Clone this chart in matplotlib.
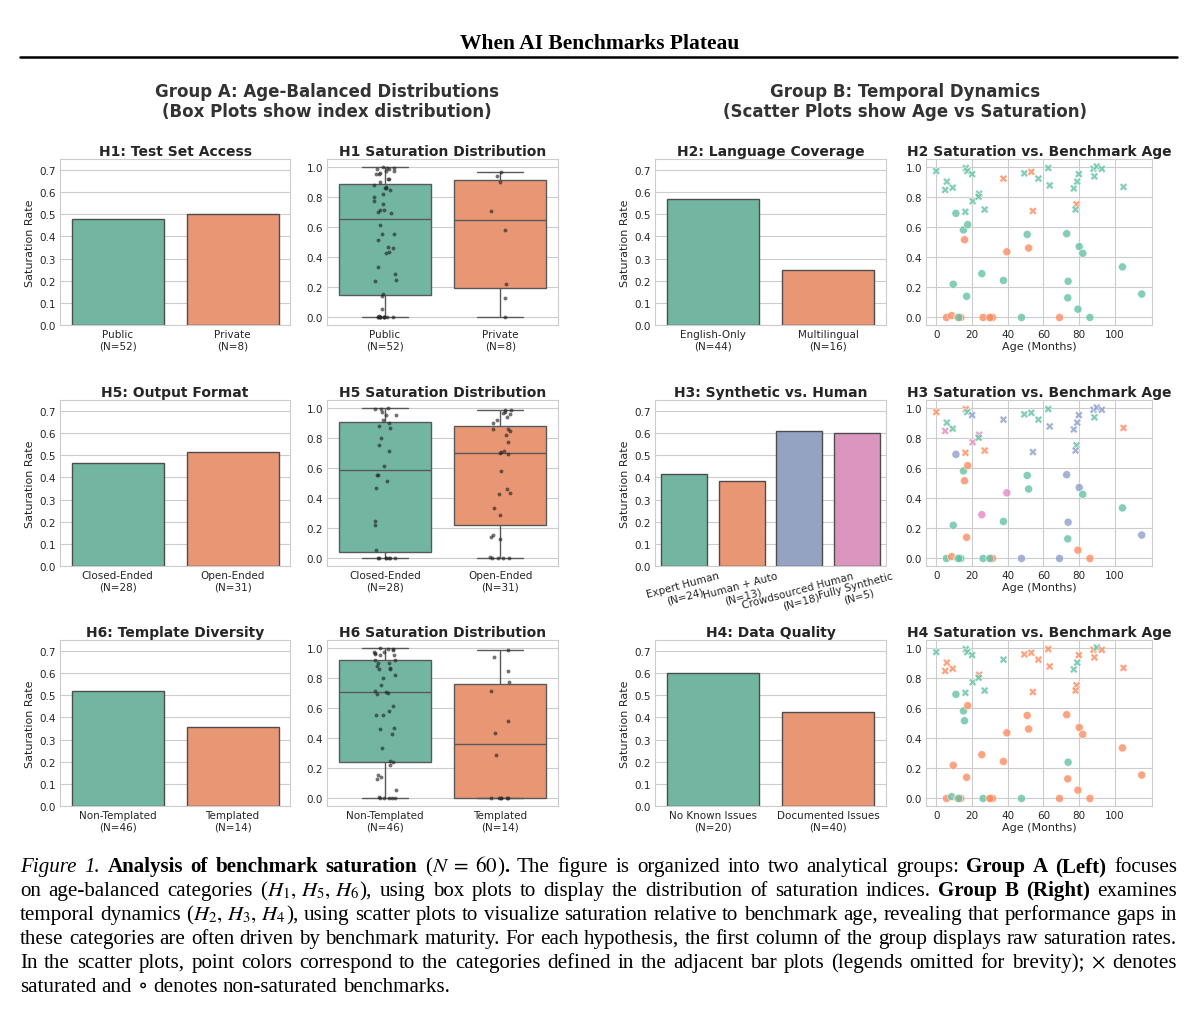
import numpy as np
import pandas as pd
import matplotlib
matplotlib.use('Agg')
import matplotlib.pyplot as plt
import seaborn as sns
from matplotlib.lines import Line2D

# 60 benchmarks: first 29 saturated (x), remaining 31 non-saturated (o)
age = [0, 5, 5.9, 9.2, 16.5, 17.4, 20.1, 16.3, 20.4, 24.0,
       23.7, 27.1, 37.6, 49.3, 53.2, 57.2, 54.1, 62.7, 63.5, 77.0,
       78.9, 79.8, 78.5, 78.0, 88.0, 89.9, 88.5, 92.7, 104.8,
       11.0, 15.2, 17.6, 15.8, 9.5, 17.0, 25.5, 37.6, 39.5, 50.9,
       51.7, 73.0, 73.8, 73.6, 80.0, 82.0, 79.3, 104.2, 115.0, 5.7,
       8.6, 12.0, 13.8, 26.2, 30.5, 31.5, 47.7, 69.0, 86.0, 12.6, 30.0]
sat_index = [0.97, 0.845, 0.90, 0.86, 0.99, 0.97, 0.95, 0.70, 0.77, 0.82,
             0.80, 0.715, 0.92, 0.955, 0.965, 0.92, 0.705, 0.99, 0.875, 0.855,
             0.90, 0.95, 0.75, 0.715, 0.985, 1.0, 0.935, 0.985, 0.865,
             0.69, 0.58, 0.615, 0.515, 0.22, 0.14, 0.29, 0.245, 0.435, 0.55,
             0.46, 0.555, 0.24, 0.13, 0.47, 0.425, 0.055, 0.335, 0.155, 0.0,
             0.012, 0.0, 0.0, 0.0, 0.0, 0.0, 0.0, 0.0, 0.0, 0.0, 0.0]
saturated = [1, 1, 1, 1, 1, 1, 1, 1, 1, 1, 1, 1, 1, 1, 1, 1, 1, 1, 1, 1,
             1, 1, 1, 1, 1, 1, 1, 1, 1,
             0, 0, 0, 0, 0, 0, 0, 0, 0, 0, 0, 0, 0, 0, 0, 0, 0, 0, 0, 0,
             0, 0, 0, 0, 0, 0, 0, 0, 0, 0, 0]

# category codes per benchmark (same order as above)
h1_codes = "UUUUUUUUUUUUUUPUPUUUPUUUUUPUU" "UPUUPUUUUUUUUPUUUUUUUUUUUUUPUUU"
h2_codes = "EEEEEEEEEEEEMEMEMEEEEEMEEEEEE" "EEEMEEEEMEMEEEEEEEEMMMMMMMEMEEM"
h3_codes = "ASEEAECASSEACEEECECCCCECCCECA" "CEAAEASESEECCECEAECEAEEEAACCAEE"
h4_codes = "NDDDNNNNNDNNNDDDDDDNNDDDDNDDD" "NNDNDDDDDDDDNDDDDDDDNDDNDDNDDND"
h5_codes = "COCOCOCOOOCOCOOOOCCOOCCCOCOOC" "OOCCCOOCOCOC-OCOCOOCOCCCCCOOOCO"
h6_codes = "NTNNNNNNTNNTNNNNNNNNNNNNNNTTN" "NNNTNNTNTNNNNNNNNNNTNTTNTTNNNTN"

h1_names = {'U': 'Public', 'P': 'Private'}
h2_names = {'E': 'English-Only', 'M': 'Multilingual'}
h3_names = {'E': 'Expert Human', 'A': 'Human + Auto', 'C': 'Crowdsourced Human', 'S': 'Fully Synthetic'}
h4_names = {'N': 'No Known Issues', 'D': 'Documented Issues'}
h5_names = {'C': 'Closed-Ended', 'O': 'Open-Ended', '-': None}
h6_names = {'N': 'Non-Templated', 'T': 'Templated'}

h1_order = ['Public', 'Private']
h2_order = ['English-Only', 'Multilingual']
h3_order = ['Expert Human', 'Human + Auto', 'Crowdsourced Human', 'Fully Synthetic']
h4_order = ['No Known Issues', 'Documented Issues']
h5_order = ['Closed-Ended', 'Open-Ended']
h6_order = ['Non-Templated', 'Templated']

df = pd.DataFrame({'age': age, 'sat': sat_index, 'saturated': saturated})
df['h1'] = [h1_names[c] for c in h1_codes]
df['h2'] = [h2_names[c] for c in h2_codes]
df['h3'] = [h3_names[c] for c in h3_codes]
df['h4'] = [h4_names[c] for c in h4_codes]
df['h5'] = [h5_names[c] for c in h5_codes]
df['h6'] = [h6_names[c] for c in h6_codes]

sns.set_style('whitegrid')
plt.rcParams['xtick.labelsize'] = 7.5
plt.rcParams['ytick.labelsize'] = 7.5
plt.rcParams['xtick.major.size'] = 0
plt.rcParams['ytick.major.size'] = 0
plt.rcParams['xtick.major.pad'] = 3
plt.rcParams['ytick.major.pad'] = 3
plt.rcParams['mathtext.fontset'] = 'stix'
np.random.seed(3)

set2 = sns.color_palette('Set2')
FW, FH = 1200, 1020
fig = plt.figure(figsize=(FW / 100, FH / 100), dpi=100)


def axes_px(left, top, w, h):
    return fig.add_axes([left / FW, 1 - (top + h) / FH, w / FW, h / FH])


def pal_for(order):
    return dict(zip(order, set2[:len(order)]))


def tick_names(col, order):
    return [f'{c}\n(N={(df[col] == c).sum()})' for c in order]


def bar_panel(ax, col, order, title, rot=0):
    sns.barplot(data=df, x=col, y='saturated', order=order, hue=col, hue_order=order,
                palette=pal_for(order), errorbar=None, edgecolor='.3', linewidth=1,
                ax=ax, legend=False)
    ax.set_ylim(0, 0.75)
    ax.set_yticks(np.arange(0, 0.71, 0.1))
    ax.set_title(title, fontsize=10, fontweight='bold', pad=3)
    ax.set_xlabel('')
    ax.set_ylabel('Saturation Rate', fontsize=8, labelpad=3)
    ax.set_xticks(range(len(order)))
    ax.set_xticklabels(tick_names(col, order), rotation=rot)


def box_panel(ax, col, order, title):
    d = df[df[col].notna()]
    sns.boxplot(data=d, x=col, y='sat', order=order, hue=col, hue_order=order,
                palette=pal_for(order), showfliers=False, ax=ax, legend=False)
    sns.stripplot(data=d, x=col, y='sat', order=order, color='.15', size=2.8,
                  alpha=0.65, jitter=True, ax=ax)
    ax.set_title(title, fontsize=10, fontweight='bold', pad=3)
    ax.set_xlabel('')
    ax.set_ylabel('')
    ax.set_xticks(range(len(order)))
    ax.set_xticklabels(tick_names(col, order))


def scatter_panel(ax, col, order, title):
    sns.scatterplot(data=df, x='age', y='sat', hue=col, hue_order=order,
                    palette=pal_for(order), style='saturated', markers={1: 'X', 0: 'o'},
                    s=34, alpha=0.8, ax=ax, legend=False)
    ax.set_title(title, fontsize=10, fontweight='bold', pad=3)
    ax.set_xlabel('Age (Months)', fontsize=8, labelpad=1)
    ax.set_ylabel('')
    ax.set_xticks([0, 20, 40, 60, 80, 100])


cols = [60, 327, 655, 926]
widths = [230, 231, 231, 226]
tops = [160, 401, 641]
H = 166

bar_panel(axes_px(cols[0], tops[0], widths[0], H), 'h1', h1_order, 'H1: Test Set Access')
box_panel(axes_px(cols[1], tops[0], widths[1], H), 'h1', h1_order, 'H1 Saturation Distribution')
bar_panel(axes_px(cols[0], tops[1], widths[0], H), 'h5', h5_order, 'H5: Output Format')
box_panel(axes_px(cols[1], tops[1], widths[1], H), 'h5', h5_order, 'H5 Saturation Distribution')
bar_panel(axes_px(cols[0], tops[2], widths[0], H), 'h6', h6_order, 'H6: Template Diversity')
box_panel(axes_px(cols[1], tops[2], widths[1], H), 'h6', h6_order, 'H6 Saturation Distribution')

bar_panel(axes_px(cols[2], tops[0], widths[2], H), 'h2', h2_order, 'H2: Language Coverage')
scatter_panel(axes_px(cols[3], tops[0], widths[3], H), 'h2', h2_order, 'H2 Saturation vs. Benchmark Age')
bar_panel(axes_px(cols[2], tops[1], widths[2], H), 'h3', h3_order, 'H3: Synthetic vs. Human', rot=15)
scatter_panel(axes_px(cols[3], tops[1], widths[3], H), 'h3', h3_order, 'H3 Saturation vs. Benchmark Age')
bar_panel(axes_px(cols[2], tops[2], widths[2], H), 'h4', h4_order, 'H4: Data Quality')
scatter_panel(axes_px(cols[3], tops[2], widths[3], H), 'h4', h4_order, 'H4 Saturation vs. Benchmark Age')

# page header
fig.text(0.5, 1 - 44 / FH, 'When AI Benchmarks Plateau', family='Liberation Serif',
         weight='bold', fontsize=15.5, ha='center', va='center', color='black')
fig.add_artist(Line2D([20 / FW, 1177 / FW], [1 - 58 / FH, 1 - 58 / FH], color='black', lw=1.8))

fig.text(327 / FW, 1 - 102 / FH, 'Group A: Age-Balanced Distributions\n(Box Plots show index distribution)',
         ha='center', va='center', fontsize=12, fontweight='bold', color='.2', linespacing=1.1)
fig.text(905 / FW, 1 - 102 / FH, 'Group B: Temporal Dynamics\n(Scatter Plots show Age vs Saturation)',
         ha='center', va='center', fontsize=12, fontweight='bold', color='.2', linespacing=1.1)

# caption, justified line by line
caption = [
    [('i', 'Figure 1.'), ('r', ' '), ('b', 'Analysis of benchmark saturation'), ('r', ' ('),
     ('m', r'$N\;=\;60$'), ('r', ')'), ('b', '.'),
     ('r', ' The figure is organized into two analytical groups: '), ('b', 'Group A (Left)'),
     ('r', ' focuses')],
    [('r', 'on age-balanced categories ('), ('m', r'$H_1,\,H_5,\,H_6$'),
     ('r', '), using box plots to display the distribution of saturation indices. '),
     ('b', 'Group B (Right)'), ('r', ' examines')],
    [('r', 'temporal dynamics ('), ('m', r'$H_2,\,H_3,\,H_4$'),
     ('r', '), using scatter plots to visualize saturation relative to benchmark age, revealing that performance gaps in')],
    [('r', 'these categories are often driven by benchmark maturity. For each hypothesis, the first column of the group displays raw saturation rates.')],
    [('r', 'In the scatter plots, point colors correspond to the categories defined in the adjacent bar plots (legends omitted for brevity); '),
     ('m', r'$\times$'), ('r', ' denotes')],
    [('r', 'saturated and '), ('d', '\u2218'), ('r', ' denotes non-saturated benchmarks.')],
]


def split_words(line):
    words = [[]]
    for st, txt in line:
        parts = [txt] if st in ('m', 'd') else txt.split(' ')
        for i, p in enumerate(parts):
            if i > 0:
                words.append([])
            if p:
                words[-1].append((st, p))
    return [w for w in words if w]


def style_kw(st):
    if st == 'i':
        return dict(family='Liberation Serif', style='italic')
    if st == 'b':
        return dict(family='Liberation Serif', weight='bold')
    if st == 'd':
        return dict(family='DejaVu Serif')
    return dict(family='Liberation Serif')


renderer = fig.canvas.get_renderer()
x0, x1 = 20, 1177


def words_width(words, size):
    total = 0
    for w in words:
        for st, txt in w:
            t = fig.text(0, 0, txt, fontsize=size, **style_kw(st))
            total += t.get_window_extent(renderer).width
            t.remove()
    return total


# size the caption so the plainest line fills the width with normal spacing
probe = split_words(caption[3])
natural = words_width(probe, 10) + (len(probe) - 1) * 0.25 * 10 * 100 / 72
cap_size = 10 * (x1 - x0) / natural * 0.995

for li, line in enumerate(caption):
    yb = 1 - (872 + 24 * li) / FH
    words = split_words(line)
    placed = []
    total = 0
    for w in words:
        pieces = []
        for st, txt in w:
            t = fig.text(0, yb, txt, fontsize=cap_size, ha='left', va='baseline',
                         color='black', **style_kw(st))
            wpx = t.get_window_extent(renderer).width
            pieces.append((t, wpx))
            total += wpx
        placed.append(pieces)
    if li < len(caption) - 1:
        gap = (x1 - x0 - total) / (len(words) - 1)
    else:
        gap = 0.25 * cap_size * 100 / 72
    x = x0
    for pieces in placed:
        for t, wpx in pieces:
            t.set_x(x / FW)
            x += wpx
        x += gap

fig.savefig('out.png', dpi=100)
